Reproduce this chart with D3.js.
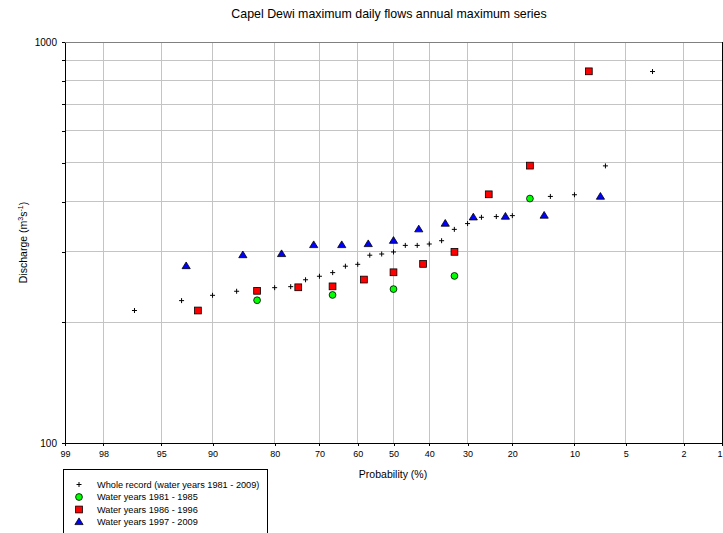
<!DOCTYPE html>
<html>
<head>
<meta charset="utf-8">
<script src="https://cdn.jsdelivr.net/npm/d3@7"></script>
<style>
  body { margin: 0; background: #fff; }
  svg { display: block; font-family: "Liberation Sans", Arial, sans-serif; }
</style>
</head>
<body>
<svg id="chart" width="723" height="533"></svg>
<script>
// Exceedance probability ticks (%) and discharge ticks (m3/s)
const probTicks = [99, 98, 95, 90, 80, 70, 60, 50, 40, 30, 20, 10, 5, 2, 1];
const flowMajor = [100, 1000];
const flowMinor = [200, 300, 400, 500, 600, 700, 800, 900];

// Whole record, water years 1981 - 2009
const wholeProb = [3.33, 6.67, 10, 13.33, 16.67, 20, 23.33, 26.67, 30, 33.33, 36.67, 40, 43.33, 46.67, 50,
                   53.33, 56.67, 60, 63.33, 66.67, 70, 73.33, 76.67, 80, 83.33, 86.67, 90, 93.33, 96.67];
const wholeFlow = [844, 491, 416, 412, 408, 369, 367, 365.5, 352.5, 341, 319.5, 313.5, 311, 311, 299.5,
                   296, 294, 279, 276, 266, 260.5, 255.3, 245.4, 244, 241, 239, 233.5, 226.5, 214];

// Water years 1981 - 1985
const p8185 = [16.7, 33.3, 50, 66.7, 83.3];
const q8185 = [407, 261, 242, 234, 227];

// Water years 1986 - 1996
const p8696 = [8.33, 16.7, 25, 33.3, 41.7, 50, 58.3, 66.7, 75, 83.3, 91.7];
const q8696 = [845, 491.7, 417, 299.7, 279.7, 266.5, 255.6, 245.8, 244.5, 239.6, 214];

// Water years 1997 - 2009
const p9709 = [7.14, 14.3, 21.4, 28.6, 35.7, 42.9, 50, 57.1, 64.3, 71.4, 78.6, 85.7, 92.9];
const q9709 = [412.7, 370.2, 368, 366.5, 353.5, 342.2, 320.4, 314.4, 312.6, 312.6, 296.9, 295, 277];

const legendLabels = [
  "Whole record (water years 1981 - 2009)",
  "Water years 1981 - 1985",
  "Water years 1986 - 1996",
  "Water years 1997 - 2009"
];

// Inverse standard normal CDF (Acklam)
function probit(p) {
  const a = [-3.969683028665376e+01, 2.209460984245205e+02, -2.759285104469687e+02, 1.383577518672690e+02, -3.066479806614716e+01, 2.506628277459239e+00];
  const b = [-5.447609879822406e+01, 1.615858368580409e+02, -1.556989798598866e+02, 6.680131188771972e+01, -1.328068155288572e+01];
  const c = [-7.784894002430293e-03, -3.223964580411365e-01, -2.400758277161838e+00, -2.549732539343734e+00, 4.374664141464968e+00, 2.938163982698783e+00];
  const d = [7.784695709041462e-03, 3.224671290700398e-01, 2.445134137142996e+00, 3.754408661907416e+00];
  const pl = 0.02425, ph = 1 - pl;
  let q, r;
  if (p < pl) {
    q = Math.sqrt(-2 * Math.log(p));
    return (((((c[0]*q+c[1])*q+c[2])*q+c[3])*q+c[4])*q+c[5]) / ((((d[0]*q+d[1])*q+d[2])*q+d[3])*q+1);
  } else if (p <= ph) {
    q = p - 0.5; r = q * q;
    return (((((a[0]*r+a[1])*r+a[2])*r+a[3])*r+a[4])*r+a[5])*q / (((((b[0]*r+b[1])*r+b[2])*r+b[3])*r+b[4])*r+1);
  } else {
    q = Math.sqrt(-2 * Math.log(1 - p));
    return -(((((c[0]*q+c[1])*q+c[2])*q+c[3])*q+c[4])*q+c[5]) / ((((d[0]*q+d[1])*q+d[2])*q+d[3])*q+1);
  }
}
// exceedance probability (%) -> normal variate, so 99 % sits on the left
const zOf = p => probit(1 - p / 100);

const L = 65, R = 722, T = 42, B = 443;
const svg = d3.select("#chart");

const xz = d3.scaleLinear().domain([zOf(99), zOf(1)]).range([L, R]);
const x = p => xz(zOf(p));
const y = d3.scaleLog().domain([100, 1000]).range([B, T]);

// grid
const grid = svg.append("g");
grid.selectAll("line.v").data(probTicks.slice(1, -1)).join("line")
  .attr("x1", d => x(d)).attr("x2", d => x(d)).attr("y1", T).attr("y2", B)
  .attr("stroke", "#c4c4c4").attr("stroke-width", 1).attr("shape-rendering", "crispEdges");
grid.selectAll("line.h").data(flowMinor).join("line")
  .attr("x1", L).attr("x2", R).attr("y1", d => y(d)).attr("y2", d => y(d))
  .attr("stroke", "#c4c4c4").attr("stroke-width", 1).attr("shape-rendering", "crispEdges");
// top border and right edge
svg.append("line").attr("x1", L).attr("x2", R).attr("y1", y(1000)).attr("y2", y(1000))
  .attr("stroke", "#808080").attr("shape-rendering", "crispEdges");
svg.append("line").attr("x1", R).attr("x2", R).attr("y1", T).attr("y2", B + 3)
  .attr("stroke", "#000").attr("shape-rendering", "crispEdges");

// x axis
const xAxis = d3.axisBottom(xz)
  .tickValues(probTicks.map(zOf))
  .tickFormat((d, i) => probTicks[i])
  .tickSizeInner(3).tickSizeOuter(0).tickPadding(5);
const gx = svg.append("g").attr("transform", `translate(0,${B})`).call(xAxis);
gx.select(".domain").attr("stroke", "#000").attr("shape-rendering", "crispEdges");
gx.selectAll(".tick line").attr("stroke", "#000").attr("shape-rendering", "crispEdges");
gx.selectAll(".tick text").attr("font-size", 9).attr("fill", "#000")
  .attr("font-family", "Liberation Sans, Arial, sans-serif");
// the last label sits on the right edge of the frame; keep it inside the page
gx.selectAll(".tick text").filter((d, i, n) => i === n.length - 1)
  .attr("text-anchor", "end").attr("dx", 0);

// y axis
const yAxis = d3.axisLeft(y)
  .tickValues(flowMajor.concat(flowMinor))
  .tickFormat(d => flowMajor.includes(d) ? d : "")
  .tickSizeInner(3).tickSizeOuter(0).tickPadding(5);
const gy = svg.append("g").attr("transform", `translate(${L},0)`).call(yAxis);
gy.select(".domain").attr("stroke", "#000").attr("shape-rendering", "crispEdges");
gy.selectAll(".tick line").attr("stroke", "#000").attr("shape-rendering", "crispEdges");
gy.selectAll(".tick text").attr("font-size", 10).attr("fill", "#000")
  .attr("font-family", "Liberation Sans, Arial, sans-serif");

// titles
svg.append("text").attr("x", 389).attr("y", 18).attr("text-anchor", "middle")
  .attr("font-size", 12.4).text("Capel Dewi maximum daily flows annual maximum series");
svg.append("text").attr("x", 393).attr("y", 478).attr("text-anchor", "middle")
  .attr("font-size", 10.5).text("Probability (%)");
const yl = svg.append("text").attr("transform", `translate(27,${(T + B) / 2}) rotate(-90)`)
  .attr("text-anchor", "middle").attr("font-size", 10.5);
yl.append("tspan").text("Discharge (m");
yl.append("tspan").attr("dy", -4).attr("font-size", 7).text("3");
yl.append("tspan").attr("dy", 4).text("s");
yl.append("tspan").attr("dy", -4).attr("font-size", 7).text("-1");
yl.append("tspan").attr("dy", 4).text(")");

// marker shapes
const crossPath = "M-2.5,0H2.5M0,-2.5V2.5";
const triPath = "M0,-3.6L4.1,3.1L-4.1,3.1Z";
function drawCross(g) {
  g.append("path").attr("d", crossPath).attr("stroke", "#000").attr("stroke-width", 1).attr("fill", "none");
}
function drawCircle(g) {
  g.append("circle").attr("r", 3.4).attr("fill", "#00ff00").attr("stroke", "#000").attr("stroke-width", 0.8);
}
function drawSquare(g) {
  g.append("rect").attr("x", -3.4).attr("y", -3.4).attr("width", 6.8).attr("height", 6.8)
    .attr("fill", "#ff0000").attr("stroke", "#000").attr("stroke-width", 0.8);
}
function drawTri(g) {
  g.append("path").attr("d", triPath).attr("fill", "#0000ff").attr("stroke", "#000").attr("stroke-width", 0.8);
}

const series = [
  { prob: wholeProb, flow: wholeFlow, draw: drawCross },
  { prob: p8185, flow: q8185, draw: drawCircle },
  { prob: p8696, flow: q8696, draw: drawSquare },
  { prob: p9709, flow: q9709, draw: drawTri }
];

series.forEach(s => {
  const pts = s.prob.map((p, i) => ({ p, q: s.flow[i] }));
  svg.append("g").selectAll("g").data(pts).join("g")
    .attr("transform", d => `translate(${x(d.p)},${y(d.q)})`)
    .each(function () { s.draw(d3.select(this)); });
});

// legend
const lg = svg.append("g");
lg.append("rect").attr("x", 63.5).attr("y", 469.5).attr("width", 204).attr("height", 80)
  .attr("fill", "#fff").attr("stroke", "#000").attr("stroke-width", 1);
const rowY = [484.5, 497, 509.5, 521.5];
series.forEach((s, i) => {
  const g = lg.append("g").attr("transform", `translate(79,${rowY[i]})`);
  s.draw(g);
  lg.append("text").attr("x", 97).attr("y", rowY[i] + 3.3).attr("font-size", 9.2).text(legendLabels[i]);
});
</script>
</body>
</html>
